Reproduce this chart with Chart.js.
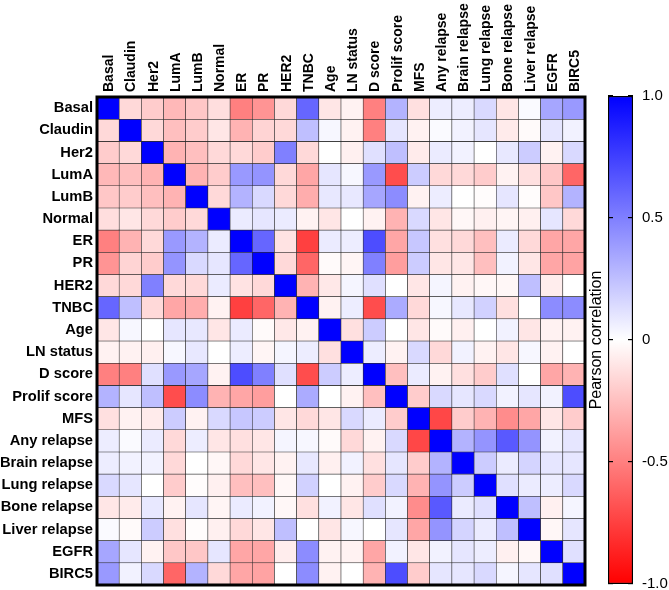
<!DOCTYPE html>
<html>
<head>
<meta charset="utf-8">
<script src="https://cdn.jsdelivr.net/npm/chart.js@4"></script>
<style>
  html, body { margin: 0; padding: 0; background: #fff; overflow: hidden; }
  #wrap { position: relative; width: 669px; height: 590px; }
  #main { position: absolute; left: 0; top: 0; width: 669px; height: 590px; }
  #bar { position: absolute; left: 585px; top: 0; width: 84px; height: 590px; }
</style>
</head>
<body>
<div id="wrap">
  <div id="main"><canvas id="c1"></canvas></div>
  <div id="bar"><canvas id="c2"></canvas></div>
</div>
<script>
const variables = ["Basal","Claudin","Her2","LumA","LumB","Normal","ER","PR","HER2","TNBC","Age","LN status","D score","Prolif score","MFS","Any relapse","Brain relapse","Lung relapse","Bone relapse","Liver relapse","EGFR","BIRC5"];

const corr = [
  [1, -0.15, -0.2, -0.28, -0.22, -0.13, -0.5, -0.42, -0.15, 0.6, -0.1, -0.05, -0.5, 0.3, -0.12, 0.07, 0.07, 0.15, -0.1, 0.02, 0.35, 0.4],
  [-0.15, 1, -0.15, -0.25, -0.2, -0.1, -0.3, -0.17, -0.15, 0.25, 0.03, -0.05, -0.5, 0.1, -0.05, 0.02, 0.05, 0.1, -0.08, -0.02, 0.1, 0.05],
  [-0.2, -0.15, 1, -0.3, -0.25, -0.15, -0.15, -0.2, 0.5, -0.15, 0, -0.06, 0.12, 0.25, -0.08, 0.08, 0.05, 0, 0.09, 0.2, -0.05, 0.15],
  [-0.28, -0.25, -0.3, 1, -0.3, -0.2, 0.4, 0.42, -0.15, -0.35, 0.1, 0.03, 0.4, -0.7, 0.2, -0.15, -0.15, -0.2, -0.05, -0.12, -0.22, -0.6],
  [-0.22, -0.2, -0.25, -0.3, 1, -0.15, 0.3, 0.15, -0.15, -0.32, 0.09, 0.09, 0.35, 0.45, -0.05, 0.07, 0, -0.01, 0.1, -0.01, -0.22, 0.3],
  [-0.13, -0.1, -0.15, -0.2, -0.15, 1, 0.08, 0.1, 0.08, -0.05, -0.1, 0, -0.05, -0.3, 0.15, -0.1, -0.03, -0.06, -0.04, -0.06, 0.1, -0.15],
  [-0.5, -0.3, -0.15, 0.4, 0.3, 0.08, 1, 0.6, -0.11, -0.75, 0.08, 0.07, 0.7, -0.35, 0.22, -0.12, -0.15, -0.25, 0.08, -0.15, -0.35, -0.35],
  [-0.42, -0.17, -0.2, 0.42, 0.15, 0.1, 0.6, 1, -0.15, -0.6, -0.02, -0.04, 0.5, -0.38, 0.2, -0.1, -0.1, -0.25, 0.05, -0.1, -0.35, -0.36],
  [-0.15, -0.15, 0.5, -0.15, -0.15, 0.08, -0.11, -0.15, 1, -0.3, -0.09, 0.04, 0.12, 0, -0.1, 0.04, -0.05, -0.03, -0.03, 0.25, -0.07, 0],
  [0.6, 0.25, -0.15, -0.35, -0.32, -0.05, -0.75, -0.6, -0.3, 1, -0.05, 0.07, -0.7, 0.33, -0.15, 0.03, 0.09, 0.18, -0.12, 0, 0.45, 0.45],
  [-0.1, 0.03, 0, 0.1, 0.09, -0.1, 0.08, -0.02, -0.09, -0.05, 1, -0.12, 0.2, 0, -0.1, -0.02, -0.06, 0, 0.05, -0.1, -0.05, -0.05],
  [-0.05, -0.05, -0.06, 0.03, 0.09, 0, 0.07, -0.04, 0.04, 0.07, -0.12, 1, 0.07, -0.05, 0.15, -0.15, 0.05, -0.05, -0.1, 0.03, -0.05, 0],
  [-0.5, -0.5, 0.12, 0.4, 0.35, -0.05, 0.7, 0.5, 0.12, -0.7, 0.2, 0.07, 1, -0.25, 0.08, -0.05, -0.12, -0.2, 0.12, 0, -0.35, -0.3],
  [0.3, 0.1, 0.25, -0.7, 0.45, -0.3, -0.35, -0.38, 0, 0.33, 0, -0.05, -0.25, 1, -0.2, 0.15, 0.1, 0.15, 0.05, 0.1, 0.05, 0.7],
  [-0.12, -0.05, -0.08, 0.2, -0.05, 0.15, 0.22, 0.2, -0.1, -0.15, -0.1, 0.15, 0.08, -0.2, 1, -0.72, -0.2, -0.3, -0.45, -0.35, -0.1, -0.2],
  [0.07, 0.02, 0.08, -0.15, 0.07, -0.1, -0.12, -0.1, 0.04, 0.03, -0.02, -0.15, -0.05, 0.15, -0.72, 1, 0.3, 0.42, 0.65, 0.42, 0.05, 0.1],
  [0.07, 0.05, 0.05, -0.15, 0, -0.03, -0.15, -0.1, -0.05, 0.09, -0.06, 0.05, -0.12, 0.1, -0.2, 0.3, 1, 0.2, 0.08, 0.17, 0.1, 0.1],
  [0.15, 0.1, 0, -0.2, -0.01, -0.06, -0.25, -0.25, -0.03, 0.18, 0, -0.05, -0.2, 0.15, -0.3, 0.42, 0.2, 1, 0.12, 0.08, 0.07, 0.15],
  [-0.1, -0.08, 0.09, -0.05, 0.1, -0.04, 0.08, 0.05, -0.03, -0.12, 0.05, -0.1, 0.12, 0.05, -0.45, 0.65, 0.08, 0.12, 1, 0.25, -0.06, 0.04],
  [0.02, -0.02, 0.2, -0.12, -0.01, -0.06, -0.15, -0.1, 0.25, 0, -0.1, 0.03, 0, 0.1, -0.35, 0.42, 0.17, 0.08, 0.25, 1, -0.03, 0.1],
  [0.35, 0.1, -0.05, -0.22, -0.22, 0.1, -0.35, -0.35, -0.07, 0.45, -0.05, -0.05, -0.35, 0.05, -0.1, 0.05, 0.1, 0.07, -0.06, -0.03, 1, 0.12],
  [0.4, 0.05, 0.15, -0.6, 0.3, -0.15, -0.35, -0.36, 0, 0.45, -0.05, 0, -0.3, 0.7, -0.2, 0.1, 0.1, 0.15, 0.04, 0.1, 0.12, 1]
];

const colorbarTicks = [1, 0.5, 0, -0.5, -1];
const colorbarTickLabels = ["1.0", "0.5", "0", "-0.5", "-1.0"];
const colorbarTitle = "Pearson correlation";

function toColor(v) {
  v = Math.max(-1, Math.min(1, v));
  if (v >= 0) {
    const c = Math.round(255 * (1 - v));
    return `rgb(${c},${c},255)`;
  }
  const c = Math.round(255 * (1 + v));
  return `rgb(255,${c},${c})`;
}

function noPadding(scale) {
  scale.paddingTop = 0; scale.paddingBottom = 0;
  scale.paddingLeft = 0; scale.paddingRight = 0;
}

Chart.defaults.font.family = "'Liberation Sans', Arial, Helvetica, sans-serif";
Chart.defaults.color = '#000';
Chart.defaults.animation = false;

const datasets = corr.map((row, i) => ({
  label: variables[i],
  data: row.map(() => 1),
  backgroundColor: row.map(toColor),
  borderColor: '#2a2a2a',
  borderWidth: 0.6,
  borderSkipped: false,
  barPercentage: 1,
  categoryPercentage: 1
}));

const framePlugin = {
  id: 'frame',
  afterDatasetsDraw(chart) {
    const { ctx, chartArea: a } = chart;
    ctx.save();
    ctx.strokeStyle = '#000';
    ctx.lineWidth = 3;
    ctx.strokeRect(a.left, a.top, a.right - a.left, a.bottom - a.top);
    ctx.restore();
  }
};

new Chart(document.getElementById('c1'), {
  type: 'bar',
  data: { labels: variables, datasets },
  options: {
    responsive: true,
    maintainAspectRatio: false,
    layout: { padding: { left: 0, top: 0, right: 84, bottom: 5 } },
    plugins: { legend: { display: false }, tooltip: { enabled: false } },
    scales: {
      x: {
        position: 'top',
        stacked: true,
        grid: { display: false, drawTicks: false },
        border: { display: false },
        ticks: {
          autoSkip: false, minRotation: 90, maxRotation: 90, padding: 5,
          labelOffset: 18,
          font: { size: 14, weight: 'bold' }, color: '#000'
        },
        afterFit(scale) { scale.height = 97; noPadding(scale); }
      },
      y: {
        type: 'linear',
        stacked: true,
        reverse: true,
        min: 0, max: variables.length,
        grid: { display: false, drawTicks: false },
        border: { display: false },
        afterBuildTicks(scale) {
          scale.ticks = variables.map((_, i) => ({ value: i + 0.5 }));
        },
        ticks: {
          autoSkip: false, padding: 4,
          font: { size: 14.7, weight: 'bold' }, color: '#000',
          callback(value, index) { return variables[index]; }
        },
        afterFit(scale) { scale.width = 97; noPadding(scale); }
      }
    }
  },
  plugins: [framePlugin]
});

new Chart(document.getElementById('c2'), {
  type: 'bar',
  data: {
    labels: [''],
    datasets: [{
      data: [[-1, 1]],
      backgroundColor(ctx) {
        const { chart } = ctx;
        const area = chart.chartArea;
        if (!area) return '#fff';
        const g = chart.ctx.createLinearGradient(0, area.bottom, 0, area.top);
        g.addColorStop(0, 'rgb(255,0,0)');
        g.addColorStop(0.5, 'rgb(255,255,255)');
        g.addColorStop(1, 'rgb(0,0,255)');
        return g;
      },
      borderColor: '#000',
      borderWidth: 1.5,
      borderSkipped: false,
      barPercentage: 1,
      categoryPercentage: 1,
      yAxisID: 'yr'
    }]
  },
  options: {
    responsive: true,
    maintainAspectRatio: false,
    layout: { padding: { left: 0, top: 96, right: 0, bottom: 6 } },
    plugins: { legend: { display: false }, tooltip: { enabled: false } },
    scales: {
      x: { display: false },
      yl: {
        type: 'linear', position: 'left', min: -1, max: 1,
        afterBuildTicks(scale) { scale.ticks = colorbarTicks.map(v => ({ value: v })); },
        ticks: { display: false },
        grid: { display: true, drawOnChartArea: false, drawTicks: true, tickLength: -5, color: '#000', lineWidth: 1.2, z: 1 },
        border: { display: false },
        title: { display: true, text: colorbarTitle, font: { size: 16 }, color: '#000', padding: { top: 2, bottom: 0 } },
        afterFit(scale) { scale.width = 23; noPadding(scale); }
      },
      yr: {
        type: 'linear', position: 'right', min: -1, max: 1,
        afterBuildTicks(scale) { scale.ticks = colorbarTicks.map(v => ({ value: v })); },
        ticks: {
          padding: 14, font: { size: 15 }, color: '#000',
          callback(value, index) { return colorbarTickLabels[index]; }
        },
        grid: { display: true, drawOnChartArea: false, drawTicks: true, tickLength: -5, color: '#000', lineWidth: 1.2, z: 1 },
        border: { display: false },
        afterFit(scale) { scale.width = 36; noPadding(scale); }
      }
    }
  }
});
</script>
</body>
</html>
